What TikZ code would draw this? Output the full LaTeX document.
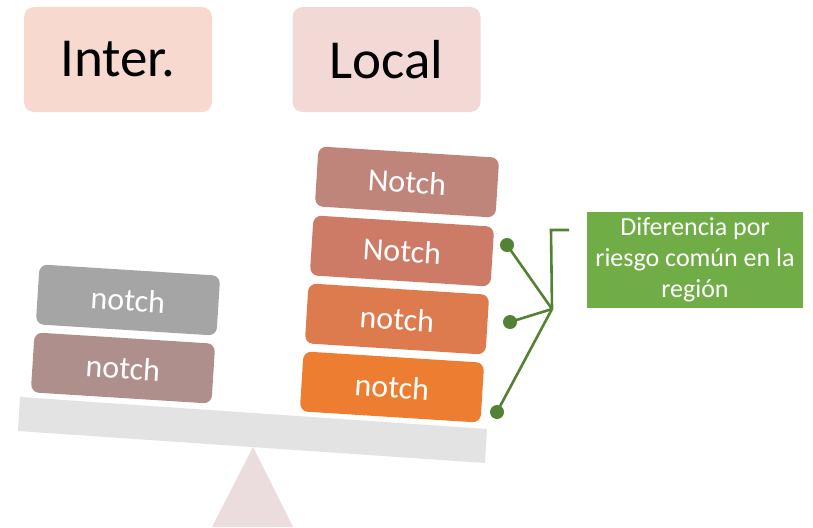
\documentclass[tikz,border=0pt]{standalone}
\usepackage{fontspec}
\setmainfont{Carlito}
\definecolor{interC}{HTML}{F8D9D0}
\definecolor{localC}{HTML}{F2D9D5}
\definecolor{beamC}{HTML}{E3E3E3}
\definecolor{fulcC}{HTML}{EBDDDD}
\definecolor{grayB}{HTML}{A5A5A5}
\definecolor{brownB}{HTML}{AF8F8C}
\definecolor{nA}{HTML}{BF857A}
\definecolor{nB}{HTML}{CD7B67}
\definecolor{nC}{HTML}{DD7A4E}
\definecolor{nD}{HTML}{ED7D31}
\definecolor{greenBox}{HTML}{70AD47}
\definecolor{greenLine}{HTML}{548235}
\begin{document}
\begin{tikzpicture}[x=1pt,y=-1pt,
  titlebox/.style={rounded corners=10pt, minimum width=188pt, minimum height=105pt, inner sep=0pt, font=\fontsize{55}{60}\selectfont},
  blockbox/.style={rounded corners=8pt, minimum width=181pt, minimum height=60pt, inner sep=0pt, rotate=-3.6, text=white, font=\fontsize{32}{36}\selectfont},
  dotnode/.style={circle, fill=greenLine, minimum size=14pt, inner sep=0pt},
  link/.style={draw=greenLine, line width=2.6pt}]
\useasboundingbox (0,0) rectangle (813,527);
% title boxes
\node[titlebox, fill=interC] (inter) at (118,59.5) {Inter.};
\node[titlebox, fill=localC] (local) at (386.5,59.5) {Local};
% fulcrum and beam
\fill[fulcC] (253,447) -- (293,527) -- (212,527) -- cycle;
\fill[beamC] (20,397) -- (487,429) -- (485,463) -- (18,431) -- cycle;
% left blocks
\node[blockbox, fill=grayB] (l1) at (128,300) {notch};
\node[blockbox, fill=brownB] (l2) at (123,368) {notch};
% right blocks
\node[blockbox, fill=nA] (r1) at (407,182) {Notch};
\node[blockbox, fill=nB] (r2) at (402,251) {Notch};
\node[blockbox, fill=nC] (r3) at (397,319) {notch};
\node[blockbox, fill=nD] (r4) at (392,387) {notch};
% green label
\node[fill=greenBox, text=white, minimum width=216pt, minimum height=96pt, inner sep=0pt, align=center, font=\fontsize{26}{31}\selectfont] (lab) at (695,260) {Diferencia por\\riesgo común en la\\región};
% connectors
\coordinate (j) at (552,309);
\coordinate (bt) at (551,230);
\coordinate (be) at (569,230);
\node[dotnode] (d1) at (507,245) {};
\node[dotnode] (d2) at (510,322) {};
\node[dotnode] (d3) at (497,412) {};
\draw[link] (d1.center) -- (j);
\draw[link] (d2.center) -- (j);
\draw[link] (d3.center) -- (j);
\draw[link] (j) -- (bt) -- (be);
\end{tikzpicture}
\end{document}
